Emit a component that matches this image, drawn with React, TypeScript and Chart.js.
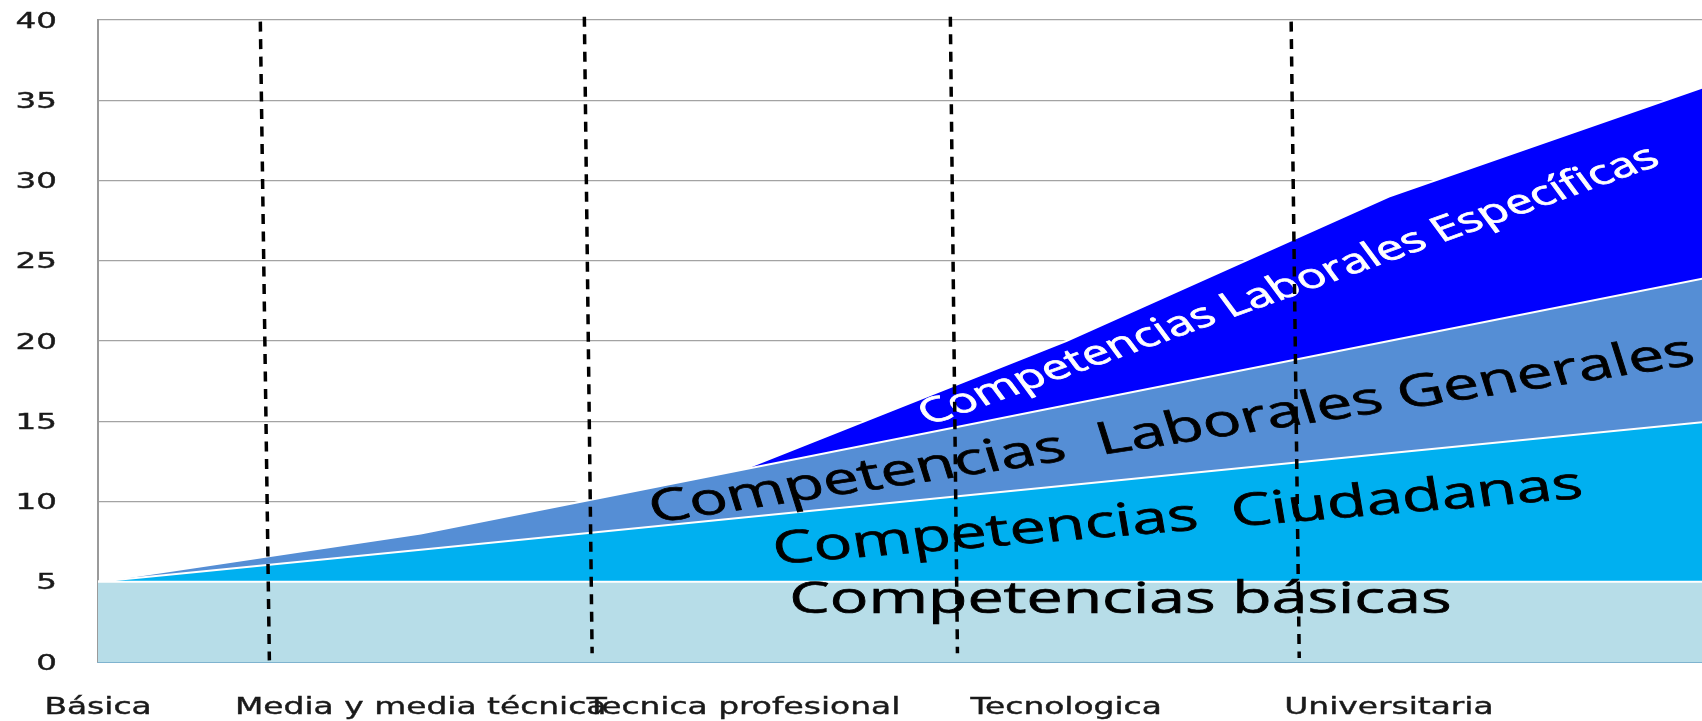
import React, { useEffect, useRef } from "react";
import { Chart, registerables } from "chart.js";

Chart.register(...registerables);

// ---- data ----
const positions = [0, 1, 2, 3, 4, 5];
const levelLabels = ["Básica", "Media y media técnica", "Tecnica profesional", "Tecnologica", "Universitaria"];
const basicas = [5, 5, 5, 5, 5, 5];
const ciudadanas = [0, 2, 4, 6, 8, 10];
const generales = [0, 1, 3, 5, 7, 9];
const especificas = [0, 0, 0, 4, 9, 12];
const yTickValues = [0, 5, 10, 15, 20, 25, 30, 35, 40];

const separatorTopX = [0.503, 1.507, 2.641, 3.697];
const separatorBottomX = [0.531, 1.531, 2.663, 3.722];
const separatorTopY = [39.9, 40.2, 40.2, 39.9];
const separatorBottomY = [0.1, 0.55, 0.55, 0.25];

const bandNames = [
  "Competencias básicas",
  "Competencias  Ciudadanas",
  "Competencias  Laborales Generales",
  "Competencias Laborales Específicas",
];
const bandLabelX = [3.168, 3.344, 3.324, 3.685];
const bandLabelY = [4.05, 9.16, 14.58, 23.55];

// ---- styles ----
const STRETCH = 1.44;
const bandAngles = [0, 6.7, 12.37, 27.2];
const bandLengths = [460, 566, 742, 573];
const bandColors = ["#000000", "#000000", "#000000", "#ffffff"];

function pts(vals: number[]) {
  return positions.map((x, i) => ({ x, y: vals[i] }));
}

const overlayPlugin = {
  id: "overlay",
  afterDatasetsDraw(chart: any) {
    const ctx: CanvasRenderingContext2D = chart.ctx;
    const xs = chart.scales.x;
    const ys = chart.scales.y;
    const area = chart.chartArea;

    // band labels
    bandNames.forEach((name, i) => {
      ctx.save();
      ctx.font = "100px 'Open Sans'";
      const w = ctx.measureText(name).width;
      const size = (100 * bandLengths[i]) / w;
      ctx.font = `${size}px 'Open Sans'`;
      ctx.translate(xs.getPixelForValue(bandLabelX[i]), ys.getPixelForValue(bandLabelY[i]));
      ctx.scale(STRETCH, 1);
      ctx.rotate((-bandAngles[i] * Math.PI) / 180);
      ctx.fillStyle = bandColors[i];
      ctx.strokeStyle = bandColors[i];
      ctx.lineWidth = 0.7;
      ctx.textAlign = "center";
      ctx.textBaseline = "alphabetic";
      ctx.fillText(name, 0, 0.357 * size);
      ctx.strokeText(name, 0, 0.357 * size);
      ctx.restore();
    });

    // dashed separators
    ctx.save();
    ctx.strokeStyle = "#000000";
    ctx.lineWidth = 3.5;
    ctx.setLineDash([10, 7.5]);
    for (let i = 0; i < separatorTopX.length; i++) {
      ctx.beginPath();
      ctx.moveTo(xs.getPixelForValue(separatorTopX[i]), ys.getPixelForValue(separatorTopY[i]));
      ctx.lineTo(xs.getPixelForValue(separatorBottomX[i]), ys.getPixelForValue(separatorBottomY[i]));
      ctx.stroke();
    }
    ctx.restore();

    // y labels
    ctx.save();
    ctx.font = "21px 'DejaVu Sans'";
    ctx.fillStyle = "#1a1a1a";
    ctx.strokeStyle = "#1a1a1a";
    ctx.lineWidth = 0.4;
    ctx.textAlign = "right";
    ctx.textBaseline = "alphabetic";
    yTickValues.forEach((v) => {
      ctx.save();
      ctx.translate(area.left - 41, ys.getPixelForValue(v) + 7.5);
      ctx.scale(1.55, 1);
      ctx.fillText(String(v), 0, 0);
      ctx.strokeText(String(v), 0, 0);
      ctx.restore();
    });
    ctx.restore();

    // x labels
    ctx.save();
    ctx.font = "23px 'DejaVu Sans'";
    ctx.fillStyle = "#1a1a1a";
    ctx.strokeStyle = "#1a1a1a";
    ctx.lineWidth = 0.4;
    ctx.textAlign = "center";
    ctx.textBaseline = "alphabetic";
    levelLabels.forEach((lab, i) => {
      ctx.save();
      ctx.translate(xs.getPixelForValue(positions[i]), area.bottom + 51.5);
      ctx.scale(1.43, 1);
      ctx.fillText(lab, 0, 0);
      ctx.strokeText(lab, 0, 0);
      ctx.restore();
    });
    ctx.restore();
  },
};

export default function App() {
  const ref = useRef<HTMLCanvasElement>(null);
  useEffect(() => {
    if (!ref.current) return;
    const common = { borderColor: "#ffffff", borderWidth: 2, pointRadius: 0, tension: 0 };
    const chart = new Chart(ref.current, {
      type: "line",
      data: {
        datasets: [
          { label: bandNames[0], data: pts(basicas), backgroundColor: "#B7DDE8", fill: "origin", ...common },
          { label: bandNames[1], data: pts(ciudadanas), backgroundColor: "#00B0F0", fill: "-1", ...common },
          { label: bandNames[2], data: pts(generales), backgroundColor: "#558ED5", fill: "-1", ...common },
          { label: bandNames[3], data: pts(especificas), backgroundColor: "#0000FF", fill: "-1", ...common },
        ],
      } as any,
      options: {
        animation: false,
        responsive: false,
        devicePixelRatio: 1,
        layout: { padding: { left: 98, top: 20, right: 0, bottom: 59 } },
        plugins: { legend: { display: false }, tooltip: { enabled: false } },
        scales: {
          x: {
            type: "linear",
            min: 0,
            max: 4.97,
            grid: { display: false, drawTicks: false },
            ticks: { display: false },
            border: { display: true, color: "#7fb3cf", width: 2 },
          },
          y: {
            type: "linear",
            stacked: true,
            min: 0,
            max: 40,
            ticks: { display: false, stepSize: 5 },
            grid: { color: "#a3a3a3", lineWidth: 1.2, drawTicks: false },
            border: { display: true, color: "#9a9a9a", width: 2 },
          },
        },
      } as any,
      plugins: [overlayPlugin],
    });
    return () => chart.destroy();
  }, []);
  return (
    <div style={{ position: "fixed", left: 0, top: 0, width: 1702, height: 721, background: "#fff" }}>
      <canvas ref={ref} width={1702} height={721} style={{ display: "block" }} />
    </div>
  );
}
